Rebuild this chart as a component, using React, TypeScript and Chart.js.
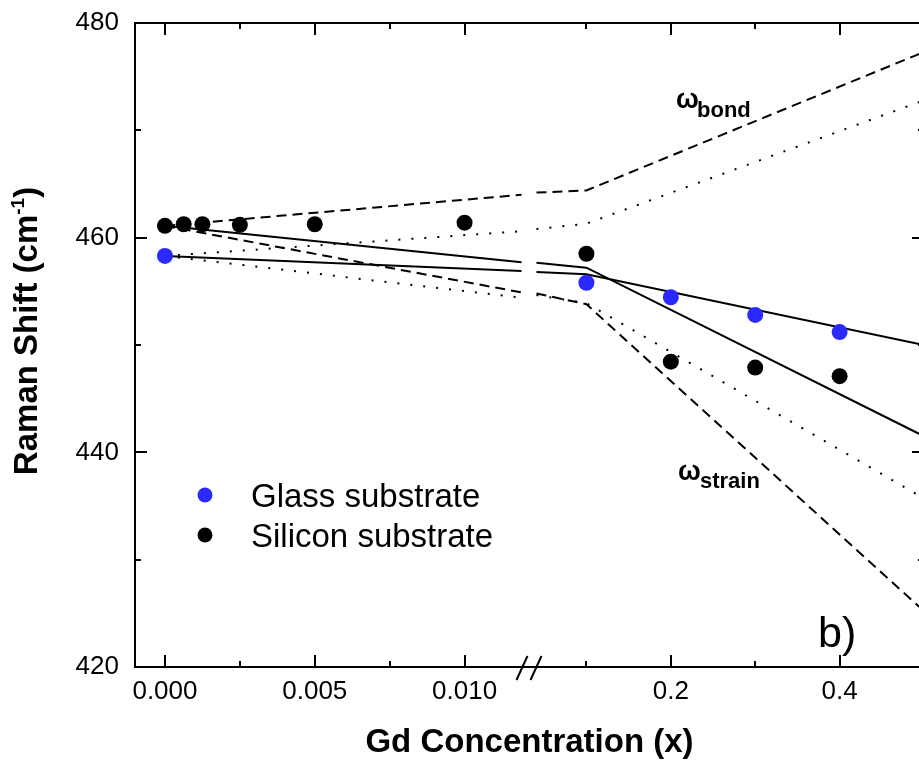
import React, { useEffect, useRef } from "react";
import { Chart, registerables } from "chart.js";

Chart.register(...registerables);

const FONT = "'Liberation Sans', Arial, Helvetica, sans-serif";

// ---------- data ----------
const glassX = [0, 0.1, 0.2, 0.3, 0.4];
const glassY = [458.3, 455.8, 454.45, 452.8, 451.2];

const siliconX = [0, 0.000625, 0.00125, 0.0025, 0.005, 0.01, 0.1, 0.2, 0.3, 0.4];
const siliconY = [461.1, 461.25, 461.25, 461.2, 461.25, 461.4, 458.5, 448.45, 447.9, 447.1];

const modelX = [0, 0.0119, 0.0408, 0.1, 0.5];
const bondSiliconY = [461.1, 464.0, 464.2, 464.4, 477.3];
const bondGlassY = [458.3, 460.6, 460.8, 461.3, 472.8];
const fitSiliconY = [461.1, 457.7, 457.66, 457.2, 441.5];
const fitGlassY = [458.3, 456.9, 456.8, 456.6, 450.0];
const strainSiliconY = [461.1, 454.9, 454.8, 453.8, 425.2];
const strainGlassY = [458.3, 454.4, 454.65, 453.9, 435.7];

const yMajorTicks = [420, 440, 460, 480];
const yMinorTicks = [430, 450, 470];
const xMajorTicks = [0, 0.005, 0.01, 0.2, 0.4];
const xMajorLabels = ["0.000", "0.005", "0.010", "0.2", "0.4"];
const xMinorTicks = [0.0025, 0.0075, 0.1, 0.3, 0.5];

const X_MIN = -0.001;
const X_MAX = 0.5;
const BREAK_LEFT = 0.0119;
const BREAK_RIGHT = 0.0408;

const xTitle = "Gd Concentration (x)";
const yTitleMain = "Raman Shift (cm";
const yTitleSup = "-1";
const yTitleEnd = ")";
const panelLabel = "b)";

// broken-axis transform: left part in units of 0.001, right part compressed
const RIGHT_ORIGIN = 14.067;
const RIGHT_SCALE = 28.167;
function toAxis(x: number): number {
  return x <= 0.02 ? x * 1000 : RIGHT_ORIGIN + (x - 0.1) * RIGHT_SCALE;
}

function pts(xs: number[], ys: number[]) {
  const out: any[] = [];
  for (let i = 0; i < xs.length; i++) {
    if (i > 0 && xs[i - 1] <= 0.02 && xs[i] > 0.02) {
      out.push({ x: (toAxis(xs[i - 1]) + toAxis(xs[i])) / 2, y: null });
    }
    out.push({ x: toAxis(xs[i]), y: ys[i] });
  }
  return out;
}

function lineDs(label: string, ys: number[], dash: number[]) {
  return {
    label,
    data: pts(modelX, ys),
    showLine: true,
    pointRadius: 0,
    pointHoverRadius: 0,
    borderColor: "#000",
    backgroundColor: "#000",
    borderWidth: 2,
    borderDash: dash,
    borderCapStyle: "butt",
    spanGaps: false,
    fill: false,
  };
}

const framePlugin = {
  id: "frame",
  afterDraw(chart: any) {
    const { ctx, chartArea: a, scales } = chart;
    const xs = scales.x;
    const ys = scales.y;
    ctx.save();
    ctx.strokeStyle = "#000";
    ctx.lineWidth = 2;
    ctx.lineCap = "butt";
    ctx.beginPath();
    ctx.moveTo(a.left, a.top);
    ctx.lineTo(a.right, a.top);
    ctx.lineTo(a.right, a.bottom);
    ctx.stroke();
    const xt = (v: number, len: number) => {
      const p = Math.round(xs.getPixelForValue(toAxis(v)));
      ctx.beginPath();
      ctx.moveTo(p, a.bottom);
      ctx.lineTo(p, a.bottom - len);
      ctx.moveTo(p, a.top);
      ctx.lineTo(p, a.top + len);
      ctx.stroke();
    };
    const yt = (v: number, len: number) => {
      const p = Math.round(ys.getPixelForValue(v));
      ctx.beginPath();
      ctx.moveTo(a.left, p);
      ctx.lineTo(a.left + len, p);
      ctx.moveTo(a.right, p);
      ctx.lineTo(a.right - len, p);
      ctx.stroke();
    };
    xMajorTicks.forEach((v) => xt(v, 12));
    xMinorTicks.forEach((v) => xt(v, 6));
    yMajorTicks.forEach((v) => yt(v, 12));
    yMinorTicks.forEach((v) => yt(v, 6));
    // axis break marks
    const c = (xs.getPixelForValue(toAxis(BREAK_LEFT)) + xs.getPixelForValue(toAxis(BREAK_RIGHT))) / 2;
    [-7, 7].forEach((d) => {
      ctx.beginPath();
      ctx.moveTo(c + d - 5.5, a.bottom + 13);
      ctx.lineTo(c + d + 5.5, a.bottom - 11);
      ctx.stroke();
    });
    ctx.restore();
  },
};

const textPlugin = {
  id: "texts",
  afterDraw(chart: any) {
    const { ctx, chartArea: a } = chart;
    ctx.save();
    ctx.fillStyle = "#000";
    ctx.textBaseline = "alphabetic";
    ctx.textAlign = "left";

    // y title
    ctx.save();
    ctx.translate(37, 331);
    ctx.rotate(-Math.PI / 2);
    ctx.font = `bold 33px ${FONT}`;
    const w1 = ctx.measureText(yTitleMain).width;
    const w3 = ctx.measureText(yTitleEnd).width;
    ctx.font = `bold 19px ${FONT}`;
    const w2 = ctx.measureText(yTitleSup).width;
    const x0 = -(w1 + w2 + w3) / 2;
    ctx.font = `bold 33px ${FONT}`;
    ctx.fillText(yTitleMain, x0, 0);
    ctx.font = `bold 19px ${FONT}`;
    ctx.fillText(yTitleSup, x0 + w1, -13);
    ctx.font = `bold 33px ${FONT}`;
    ctx.fillText(yTitleEnd, x0 + w1 + w2, 0);
    ctx.restore();

    // x title
    ctx.font = `bold 33px ${FONT}`;
    ctx.textAlign = "center";
    ctx.fillText(xTitle, (a.left + a.right) / 2, 752);
    ctx.textAlign = "left";

    // legend
    const ds = chart.data.datasets;
    [0, 1].forEach((i) => {
      const cy = 495 + i * 40;
      ctx.fillStyle = ds[i].backgroundColor;
      ctx.beginPath();
      ctx.arc(205, cy, 7.5, 0, Math.PI * 2);
      ctx.fill();
      ctx.fillStyle = "#000";
      ctx.font = `33px ${FONT}`;
      ctx.fillText(ds[i].label, 251, cy + 12);
    });

    // annotations
    ctx.font = `bold 27px ${FONT}`;
    ctx.fillText("ω", 676, 108);
    ctx.font = `bold 22px ${FONT}`;
    ctx.fillText("bond", 697, 117);
    ctx.font = `bold 27px ${FONT}`;
    ctx.fillText("ω", 678, 480);
    ctx.font = `bold 22px ${FONT}`;
    ctx.fillText("strain", 700, 488);

    ctx.font = `43px ${FONT}`;
    ctx.fillText(panelLabel, 818, 647);
    ctx.restore();
  },
};

export default function App() {
  const ref = useRef<HTMLCanvasElement>(null);
  useEffect(() => {
    if (!ref.current) return;
    const chart = new Chart(ref.current, {
      type: "scatter",
      data: {
        datasets: [
          {
            label: "Glass substrate",
            data: glassX.map((x, i) => ({ x: toAxis(x), y: glassY[i] })),
            backgroundColor: "#2a2aff",
            borderColor: "#2a2aff",
            pointRadius: 8,
            pointBorderWidth: 0,
          } as any,
          {
            label: "Silicon substrate",
            data: siliconX.map((x, i) => ({ x: toAxis(x), y: siliconY[i] })),
            backgroundColor: "#000",
            borderColor: "#000",
            pointRadius: 8,
            pointBorderWidth: 0,
          } as any,
          lineDs("fit silicon", fitSiliconY, []),
          lineDs("fit glass", fitGlassY, []),
          lineDs("bond silicon", bondSiliconY, [10, 6]),
          lineDs("bond glass", bondGlassY, [2, 11]),
          lineDs("strain silicon", strainSiliconY, [10, 6]),
          lineDs("strain glass", strainGlassY, [2, 11]),
        ],
      },
      options: {
        animation: false,
        responsive: false,
        devicePixelRatio: 1,
        layout: { padding: { top: 23, right: 7, left: 0, bottom: 0 } },
        plugins: {
          legend: { display: false },
          tooltip: { enabled: false },
          title: { display: false },
        },
        scales: {
          x: {
            type: "linear",
            min: toAxis(X_MIN),
            max: toAxis(X_MAX),
            grid: { display: false, drawTicks: false },
            border: { display: true, color: "#000", width: 2 },
            afterBuildTicks: (s: any) => {
              s.ticks = xMajorTicks.map((v) => ({ value: toAxis(v) }));
            },
            afterFit: (s: any) => {
              s.height = 98;
              s.paddingLeft = 0;
              s.paddingRight = 0;
            },
            ticks: {
              autoSkip: false,
              maxRotation: 0,
              padding: 9,
              color: "#000",
              font: { family: FONT, size: 26 },
              callback: (_v: any, i: number) => xMajorLabels[i],
            },
          },
          y: {
            type: "linear",
            min: 420,
            max: 480,
            grid: { display: false, drawTicks: false },
            border: { display: true, color: "#000", width: 2 },
            afterBuildTicks: (s: any) => {
              s.ticks = yMajorTicks.map((v) => ({ value: v }));
            },
            afterFit: (s: any) => {
              s.width = 135;
              s.paddingTop = 0;
              s.paddingBottom = 0;
            },
            ticks: {
              padding: 16,
              color: "#000",
              font: { family: FONT, size: 26 },
              callback: (v: any) => String(v),
            },
          },
        },
      },
      plugins: [framePlugin, textPlugin],
    } as any);
    return () => chart.destroy();
  }, []);

  return (
    <div
      style={{
        position: "fixed",
        left: 0,
        top: 0,
        width: 919,
        height: 765,
        overflow: "hidden",
        background: "#fff",
      }}
    >
      <canvas ref={ref} width={932} height={765} style={{ display: "block" }} />
    </div>
  );
}
